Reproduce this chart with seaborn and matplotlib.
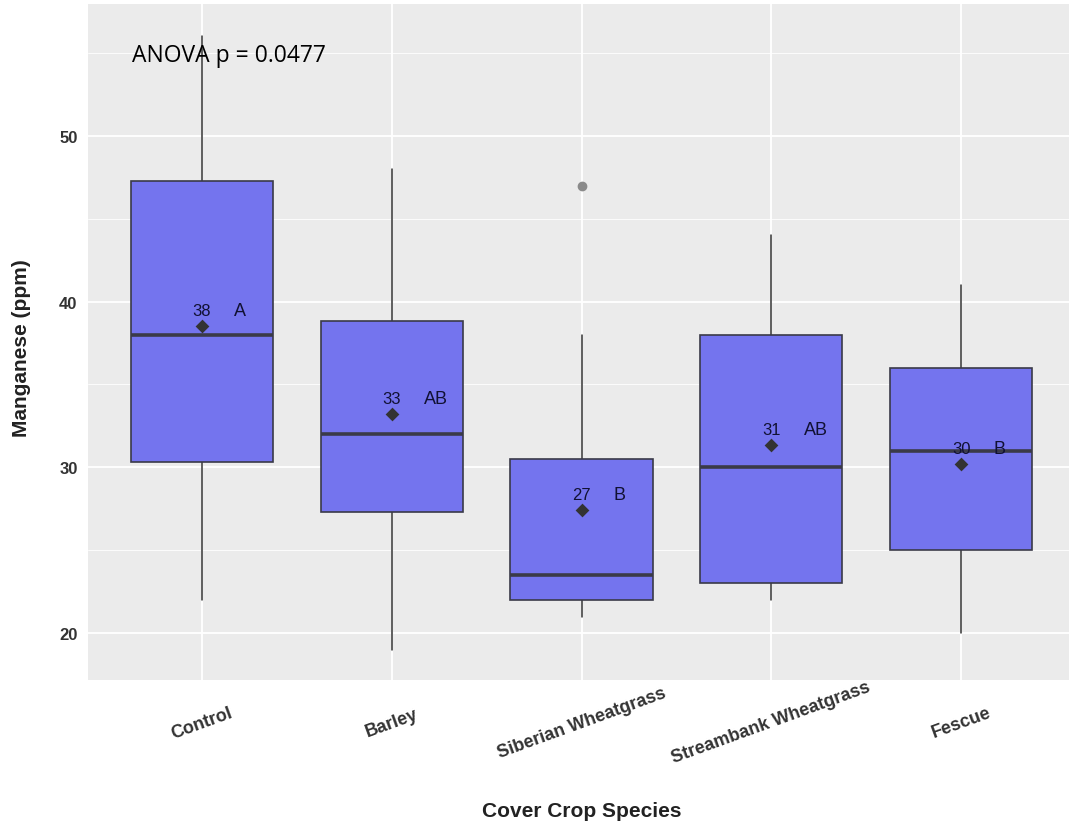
import numpy as np
import pandas as pd
import matplotlib
matplotlib.use("Agg")
import matplotlib.pyplot as plt
import seaborn as sns

# ---- data ----
species = ["Control", "Barley", "Siberian Wheatgrass", "Streambank Wheatgrass", "Fescue"]
whisker_low = [22.0, 19.0, 21.0, 22.0, 20.0]
q1 = [30.3, 27.3, 22.0, 23.0, 25.0]
median = [38.0, 32.0, 23.5, 30.0, 31.0]
q3 = [47.3, 38.8, 30.5, 38.0, 36.0]
whisker_high = [56.0, 48.0, 38.0, 44.0, 41.0]
outliers = [[], [], [47.0], [], []]
means = [38.5, 33.2, 27.4, 31.35, 30.2]
mean_labels = ["38", "33", "27", "31", "30"]
letters = ["A", "AB", "B", "AB", "B"]
anova_text = "ANOVA p = 0.0477"

sns.set_theme(style="darkgrid")
plt.rcParams["font.family"] = ["Liberation Sans", "DejaVu Sans"]

fig = plt.figure(figsize=(10.69, 8.28), dpi=100)
W, H = 1069, 828
left, right, top, bottom = 88, 1075, 5, 681
ax = fig.add_axes([left / W, 1 - bottom / H, (right - left) / W, (bottom - top) / H])
ax.set_facecolor("#EBEBEB")

stats = []
for i, name in enumerate(species):
    stats.append(dict(label=name, whislo=whisker_low[i], q1=q1[i], med=median[i],
                      q3=q3[i], whishi=whisker_high[i], fliers=outliers[i]))

edge = "#3a3a48"
ax.bxp(stats, positions=list(range(len(species))), widths=0.75, patch_artist=True,
       showfliers=True, showcaps=False,
       boxprops=dict(facecolor="#7474EE", edgecolor=edge, linewidth=1.2, zorder=3),
       medianprops=dict(color=edge, linewidth=2.6, zorder=4),
       whiskerprops=dict(color="#333333", linewidth=1.1, zorder=2),
       flierprops=dict(marker="o", markerfacecolor="#8A8A8A", markeredgecolor="#8A8A8A",
                       markersize=6, zorder=3))

df_means = pd.DataFrame({"species": species, "mean": means})
sns.stripplot(data=df_means, x="species", y="mean", order=species, jitter=False,
              marker="D", color="#333333", size=7, linewidth=0, ax=ax, zorder=5)

for i in range(len(species)):
    ax.text(i, means[i] + 0.95, mean_labels[i], ha="center", va="center",
            fontsize=12, color="#111133", zorder=6)
    ax.text(i + 0.17, means[i] + 0.95, letters[i], ha="left", va="center",
            fontsize=13, color="#111133", zorder=6)

ax.text(-0.37, 54.9, anova_text, ha="left", va="center", fontsize=16.5,
        color="black", family=["Open Sans", "DejaVu Sans"], zorder=6)

ax.set_xlim(-0.6, 4.6)
ax.set_ylim(17.17, 57.95)
ax.set_yticks([20, 30, 40, 50])
ax.set_yticks([25, 35, 45, 55], minor=True)
ax.set_xticks(range(len(species)))
ax.set_xticklabels(species, rotation=20, ha="center", va="center", fontweight="bold",
                   fontsize=13, color="#333333")
for lab in ax.get_yticklabels():
    lab.set_fontweight("bold")
    lab.set_fontsize(12)
    lab.set_color("#333333")

ax.grid(which="major", color="white", linewidth=1.3)
ax.grid(which="minor", axis="y", color="white", linewidth=0.6)
ax.grid(which="minor", axis="x", visible=False)
ax.set_axisbelow(True)
for s in ax.spines.values():
    s.set_visible(False)
ax.tick_params(axis="both", which="major", length=3.5, width=1, color="#333333")
ax.tick_params(axis="y", which="major", pad=4)
ax.tick_params(axis="x", which="major", pad=27)
ax.tick_params(axis="both", which="minor", length=0)

ax.set_xlabel("Cover Crop Species", fontsize=15, fontweight="bold", color="#222222")
ax.set_ylabel("Manganese (ppm)", fontsize=15, fontweight="bold", color="#222222")
ax.xaxis.label.set_va("center")
ax.xaxis.set_label_coords((582 - left) / (right - left), (bottom - 812) / (bottom - top))
ax.yaxis.label.set_va("center")
ax.yaxis.label.set_ha("center")
ax.yaxis.set_label_coords((22 - left) / (right - left), (bottom - 348) / (bottom - top))

fig.patch.set_facecolor("white")
fig.savefig("out.png", dpi=100)
